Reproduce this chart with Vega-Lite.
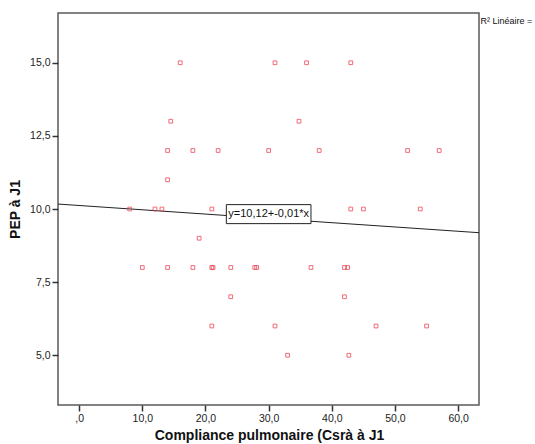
{
  "$schema": "https://vega.github.io/schema/vega-lite/v6.json",
  "autosize": {"type": "none"},
  "padding": {"left": 58, "top": 13, "right": 56, "bottom": 39},
  "width": 421,
  "height": 392,
  "background": "white",
  "config": {
    "view": {"stroke": "#5a5a5a", "strokeWidth": 1.5},
    "font": "Liberation Sans",
    "axis": {
      "domain": false,
      "grid": false,
      "tickColor": "#333333",
      "tickWidth": 1.5,
      "tickSize": 6,
      "labelColor": "#222222",
      "labelFont": "Liberation Sans",
      "labelFontSize": 10.5,
      "labelPadding": 2,
      "titleFont": "Liberation Sans",
      "titleFontSize": 14,
      "titleFontWeight": "bold",
      "titleColor": "#111111"
    }
  },
  "datasets": {
    "points": [
      {"compliance": 16, "pep": 15}, {"compliance": 31, "pep": 15}, {"compliance": 36, "pep": 15}, {"compliance": 43, "pep": 15},
      {"compliance": 14.5, "pep": 13}, {"compliance": 34.8, "pep": 13},
      {"compliance": 14, "pep": 12}, {"compliance": 18, "pep": 12}, {"compliance": 22, "pep": 12}, {"compliance": 30, "pep": 12}, {"compliance": 38, "pep": 12}, {"compliance": 52, "pep": 12}, {"compliance": 57, "pep": 12},
      {"compliance": 14, "pep": 11},
      {"compliance": 8, "pep": 10}, {"compliance": 12, "pep": 10}, {"compliance": 13.1, "pep": 10}, {"compliance": 21, "pep": 10}, {"compliance": 43, "pep": 10}, {"compliance": 45, "pep": 10}, {"compliance": 54, "pep": 10},
      {"compliance": 19, "pep": 9},
      {"compliance": 10, "pep": 8}, {"compliance": 14, "pep": 8}, {"compliance": 18, "pep": 8}, {"compliance": 21, "pep": 8}, {"compliance": 21.2, "pep": 8}, {"compliance": 24, "pep": 8}, {"compliance": 27.8, "pep": 8}, {"compliance": 28.1, "pep": 8}, {"compliance": 36.7, "pep": 8}, {"compliance": 42, "pep": 8}, {"compliance": 42.5, "pep": 8},
      {"compliance": 24, "pep": 7}, {"compliance": 42, "pep": 7},
      {"compliance": 21, "pep": 6}, {"compliance": 31, "pep": 6}, {"compliance": 47, "pep": 6}, {"compliance": 55, "pep": 6},
      {"compliance": 33, "pep": 5}, {"compliance": 42.7, "pep": 5}
    ],
    "fit": [
      {"compliance": -3.35, "pep": 10.169},
      {"compliance": 63.3, "pep": 9.19}
    ],
    "box": [
      {"x1": 23.3, "x2": 36.7, "y1": 9.5, "y2": 10.15, "xc": 30.0, "yc": 9.83, "label": "y=10,12+-0,01*x"}
    ],
    "legend": [
      {"x": 63.55, "y": 16.41, "label": "R² Linéaire ="}
    ]
  },
  "layer": [
    {
      "data": {"name": "fit"},
      "mark": {"type": "line", "color": "#222222", "strokeWidth": 1, "clip": true},
      "encoding": {
        "x": {
          "field": "compliance", "type": "quantitative",
          "scale": {"domain": [-3.35, 63.3], "nice": false, "zero": false},
          "axis": {
            "values": [0, 10, 20, 30, 40, 50, 60],
            "labelExpr": "datum.value == 0 ? ',0' : replace(format(datum.value, '.1f'), '.', ',')",
            "title": "Compliance pulmonaire (Csrà à  J1",
            "titleX": 211, "titleY": 30, "titleBaseline": "middle", "titleAlign": "center"
          }
        },
        "y": {
          "field": "pep", "type": "quantitative",
          "scale": {"domain": [3.3, 16.7], "nice": false, "zero": false},
          "axis": {
            "values": [5, 7.5, 10, 12.5, 15],
            "labelExpr": "replace(format(datum.value, '.1f'), '.', ',')",
            "title": "PEP à J1",
            "titleX": -43, "titleY": 196, "titleAngle": -90, "titleBaseline": "middle", "titleAlign": "center"
          }
        }
      }
    },
    {
      "data": {"name": "points"},
      "mark": {"type": "point", "shape": "square", "filled": false, "size": 14, "strokeWidth": 1, "color": "#ec3a4c", "opacity": 0.75},
      "encoding": {
        "x": {"field": "compliance", "type": "quantitative"},
        "y": {"field": "pep", "type": "quantitative"}
      }
    },
    {
      "data": {"name": "box"},
      "mark": {"type": "rect", "fill": "white", "stroke": "#222222", "strokeWidth": 1},
      "encoding": {
        "x": {"field": "x1", "type": "quantitative"},
        "x2": {"field": "x2"},
        "y": {"field": "y1", "type": "quantitative"},
        "y2": {"field": "y2"}
      }
    },
    {
      "data": {"name": "box"},
      "mark": {"type": "text", "font": "Liberation Sans", "fontSize": 11, "color": "#111111", "align": "center", "baseline": "middle"},
      "encoding": {
        "x": {"field": "xc", "type": "quantitative"},
        "y": {"field": "yc", "type": "quantitative"},
        "text": {"field": "label"}
      }
    },
    {
      "data": {"name": "legend"},
      "mark": {"type": "text", "font": "Liberation Sans", "fontSize": 9, "color": "#111111", "align": "left", "baseline": "middle", "clip": false},
      "encoding": {
        "x": {"field": "x", "type": "quantitative"},
        "y": {"field": "y", "type": "quantitative"},
        "text": {"field": "label"}
      }
    }
  ]
}
